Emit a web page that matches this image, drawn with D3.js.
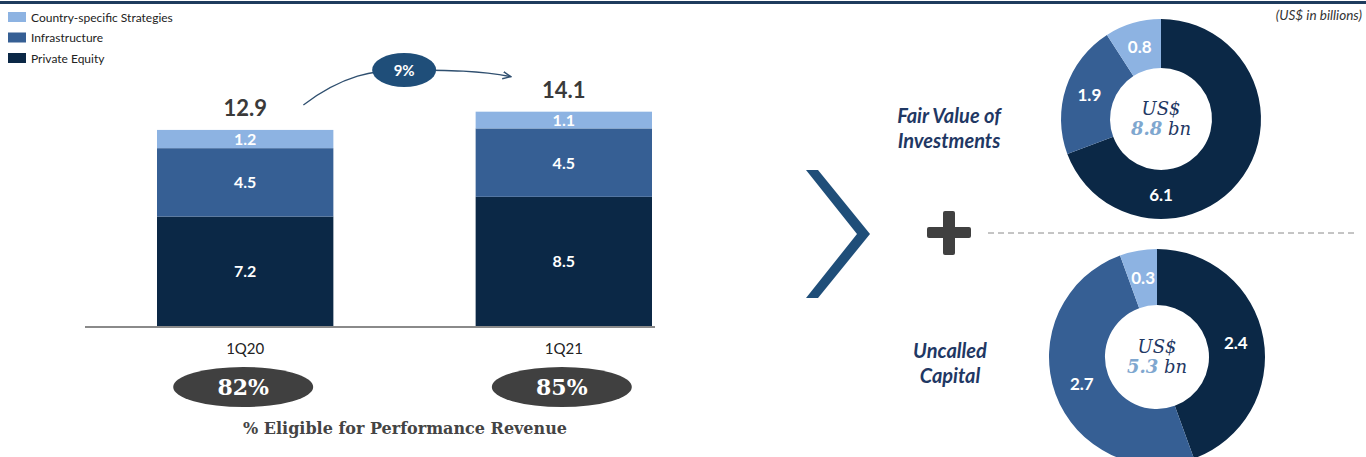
<!DOCTYPE html>
<html>
<head>
<meta charset="utf-8">
<script src="https://cdn.jsdelivr.net/npm/d3@7"></script>
<style>
  body { margin: 0; background: #fff; }
  svg { display: block; }
</style>
</head>
<body>
<div class="chart"></div>
<script>
// Data
var quarters = ["1Q20", "1Q21"];
var seriesNames = ["Private Equity", "Infrastructure", "Country-specific Strategies"];
var privateEquity = [7.2, 8.5];
var infrastructure = [4.5, 4.5];
var countrySpecific = [1.2, 1.1];
var totals = [12.9, 14.1];
var eligiblePct = ["82%", "85%"];
var growthLabel = "9%";

var fairValueLabels = ["6.1", "1.9", "0.8"];
var fairValue = [6.1, 1.9, 0.8];
var fairValueTotal = "8.8";
var uncalledLabels = ["2.4", "2.7", "0.3"];
var uncalled = [2.4, 2.7, 0.3];
var uncalledTotal = "5.3";

var width = 1366, height = 457;
var colors = ["#0b2846", "#365f94", "#8db3e2"];
var navy = "#1f4e79";

var svg = d3.select(".chart").append("svg")
    .attr("width", width)
    .attr("height", height);

// top rule
svg.append("rect").attr("x", 0).attr("y", 1).attr("width", width).attr("height", 3).attr("fill", "#1f3c5e");

svg.append("text")
    .attr("x", 1362).attr("y", 20)
    .attr("text-anchor", "end")
    .style("font-family", "Lato").style("font-style", "italic")
    .style("font-size", "13.5px").attr("fill", "#333")
    .text("(US$ in billions)");

// Legend (top to bottom = reverse of stack order)
var legendOrder = [2, 1, 0];
var legend = svg.selectAll(".legend").data(legendOrder).enter().append("g")
    .attr("transform", function(d, i) { return "translate(8," + (12 + i * 20.5) + ")"; });
legend.append("rect").attr("width", 18).attr("height", 10).attr("fill", function(d) { return colors[d]; });
legend.append("text").attr("x", 23).attr("y", 9.5)
    .style("font-family", "Lato").style("font-size", "12px").attr("fill", "#222")
    .text(function(d) { return seriesNames[d]; });

// Bar chart
var x = d3.scaleBand().domain(quarters).range([85, 724]).paddingInner(0.4465).paddingOuter(0.226);
var y = d3.scaleLinear().domain([0, 20]).range([326, 22]);

var table = quarters.map(function(q, i) {
  return { q: q, pe: privateEquity[i], infra: infrastructure[i], css: countrySpecific[i] };
});
var stack = d3.stack().keys(["pe", "infra", "css"])(table);

var layers = svg.selectAll(".layer").data(stack).enter().append("g")
    .attr("fill", function(d, i) { return colors[i]; });
layers.selectAll("rect").data(function(d) { return d; }).enter().append("rect")
    .attr("x", function(d) { return x(d.data.q); })
    .attr("y", function(d) { return y(d[1]); })
    .attr("width", x.bandwidth())
    .attr("height", function(d) { return y(d[0]) - y(d[1]); });

layers.selectAll("text").data(function(d) { return d; }).enter().append("text")
    .attr("x", function(d) { return x(d.data.q) + x.bandwidth() / 2; })
    .attr("y", function(d) { return (y(d[0]) + y(d[1])) / 2 + 6; })
    .attr("text-anchor", "middle")
    .style("font-family", "Lato").style("font-weight", "bold").style("font-size", "16px")
    .attr("fill", "#fff")
    .text(function(d) { return d3.format(".1f")(d[1] - d[0]); });

// baseline
svg.append("line").attr("x1", 85).attr("x2", 655).attr("y1", 327).attr("y2", 327)
    .attr("stroke", "#8a8a8a").attr("stroke-width", 2);

// totals
svg.selectAll(".total").data(quarters).enter().append("text")
    .attr("x", function(d) { return x(d) + x.bandwidth() / 2; })
    .attr("y", function(d, i) { return y(totals[i]) - 14; })
    .attr("text-anchor", "middle")
    .style("font-family", "Lato").style("font-weight", "bold").style("font-size", "22px")
    .attr("fill", "#3a3a3a")
    .text(function(d, i) { return totals[i]; });

// x labels
svg.selectAll(".xl").data(quarters).enter().append("text")
    .attr("x", function(d) { return x(d) + x.bandwidth() / 2; })
    .attr("y", 354)
    .attr("text-anchor", "middle")
    .style("font-family", "Lato").style("font-size", "15px").attr("fill", "#222")
    .text(function(d) { return d; });

// eligible pills
var pill = svg.selectAll(".pill").data(quarters).enter().append("g")
    .attr("transform", function(d) { return "translate(" + (x(d) + x.bandwidth() / 2 - 2) + ",387)"; });
pill.append("ellipse").attr("rx", 70).attr("ry", 20).attr("fill", "#404040");
pill.append("text").attr("y", 8).attr("text-anchor", "middle")
    .style("font-family", "DejaVu Serif").style("font-weight", "bold").style("font-size", "22px")
    .attr("fill", "#fff")
    .text(function(d, i) { return eligiblePct[i]; });

svg.append("text").attr("x", 405).attr("y", 434).attr("text-anchor", "middle")
    .style("font-family", "DejaVu Serif").style("font-weight", "bold").style("font-size", "16px")
    .attr("fill", "#444")
    .text("% Eligible for Performance Revenue");

// growth arrow
svg.append("defs").append("marker")
    .attr("id", "head").attr("viewBox", "0 0 10 10").attr("refX", 9).attr("refY", 5)
    .attr("markerWidth", 7).attr("markerHeight", 7).attr("orient", "auto")
    .append("path").attr("d", "M0,1 L9,5 L0,9").attr("fill", "none")
    .attr("stroke", "#2f4f6f").attr("stroke-width", 1.5);

var x0 = x(quarters[0]) + x.bandwidth() * 0.83, y0 = y(totals[0]) - 25;
var x1 = x(quarters[1]) + x.bandwidth() * 0.2, y1 = y(totals[1]) - 35;
var bx = (x0 + x1) / 2 - 3, by = 70;
svg.append("path")
    .attr("d", "M" + x0 + "," + y0 + " C" + (x0 + 40) + "," + (by + 5) + " " + (bx - 30) + "," + by + " " + bx + "," + by +
               " C" + (bx + 45) + "," + by + " " + (x1 - 30) + "," + (by + 1) + " " + x1 + "," + y1)
    .attr("fill", "none").attr("stroke", "#2f4f6f").attr("stroke-width", 1.3)
    .attr("marker-end", "url(#head)");
svg.append("ellipse").attr("cx", bx).attr("cy", by).attr("rx", 32).attr("ry", 17).attr("fill", navy);
svg.append("text").attr("x", bx).attr("y", by + 5.5).attr("text-anchor", "middle")
    .style("font-family", "Lato").style("font-weight", "bold").style("font-size", "15px")
    .attr("fill", "#fff").text(growthLabel);

// chevron
svg.append("path")
    .attr("d", "M806,170 L818,170 L870,234 L818,298 L806,298 L857,234 Z")
    .attr("fill", navy);

// plus
svg.append("rect").attr("x", 927).attr("y", 227).attr("width", 44).attr("height", 11).attr("rx", 2).attr("fill", "#404040");
svg.append("rect").attr("x", 943).attr("y", 211).attr("width", 12).attr("height", 44).attr("rx", 2).attr("fill", "#404040");

svg.append("line").attr("x1", 988).attr("x2", 1356).attr("y1", 233).attr("y2", 233)
    .attr("stroke", "#8a8a8a").attr("stroke-width", 1).attr("stroke-dasharray", "6,4");

// donut titles
function title(lines, cx, cy) {
  svg.append("text").attr("x", cx).attr("y", cy).attr("text-anchor", "middle")
      .style("font-family", "Lato").style("font-weight", "bold").style("font-style", "italic")
      .style("font-size", "20px").attr("fill", "#1f3864")
      .selectAll("tspan").data(lines).enter().append("tspan")
      .attr("x", cx).attr("dy", function(d, i) { return i ? 25 : 0; })
      .text(function(d) { return d; });
}
title(["Fair Value of", "Investments"], 949, 123);
title(["Uncalled", "Capital"], 950, 358);

function donut(values, labels, total, cx, cy, rOut, rIn, labelAngle) {
  var g = svg.append("g").attr("transform", "translate(" + cx + "," + cy + ")");
  var pie = d3.pie().sort(null)(values);
  var arc = d3.arc().innerRadius(rIn).outerRadius(rOut);
  g.selectAll("path").data(pie).enter().append("path")
      .attr("d", arc).attr("fill", function(d, i) { return colors[i]; });
  var rMid = (rIn + rOut) / 2;
  g.selectAll(".lbl").data(pie).enter().append("text")
      .attr("transform", function(d, i) {
        var a = labelAngle[i] != null ? labelAngle[i] : (d.startAngle + d.endAngle) / 2;
        return "translate(" + (Math.sin(a) * rMid) + "," + (-Math.cos(a) * rMid + 6) + ")";
      })
      .attr("text-anchor", "middle")
      .style("font-family", "Lato").style("font-weight", "bold").style("font-size", "17px")
      .attr("fill", "#fff")
      .text(function(d, i) { return labels[i]; });
  var t = g.append("text").attr("text-anchor", "middle")
      .style("font-family", "DejaVu Serif").style("font-style", "italic").style("font-size", "18px");
  t.append("tspan").attr("x", 0).attr("y", -4).attr("fill", "#1f3864").text("US$");
  var t2 = g.append("text").attr("text-anchor", "middle").attr("y", 16)
      .style("font-family", "DejaVu Serif").style("font-style", "italic").style("font-size", "18px");
  t2.append("tspan").attr("fill", "#7fa7cf").style("font-weight", "bold").text(total);
  t2.append("tspan").attr("fill", "#1f3864").text(" bn");
}

donut(fairValue, fairValueLabels, fairValueTotal, 1161, 119, 100, 51, [Math.PI, null, null]);
donut(uncalled, uncalledLabels, uncalledTotal, 1157, 357, 108, 52, [null, null, null]);
</script>
</body>
</html>
